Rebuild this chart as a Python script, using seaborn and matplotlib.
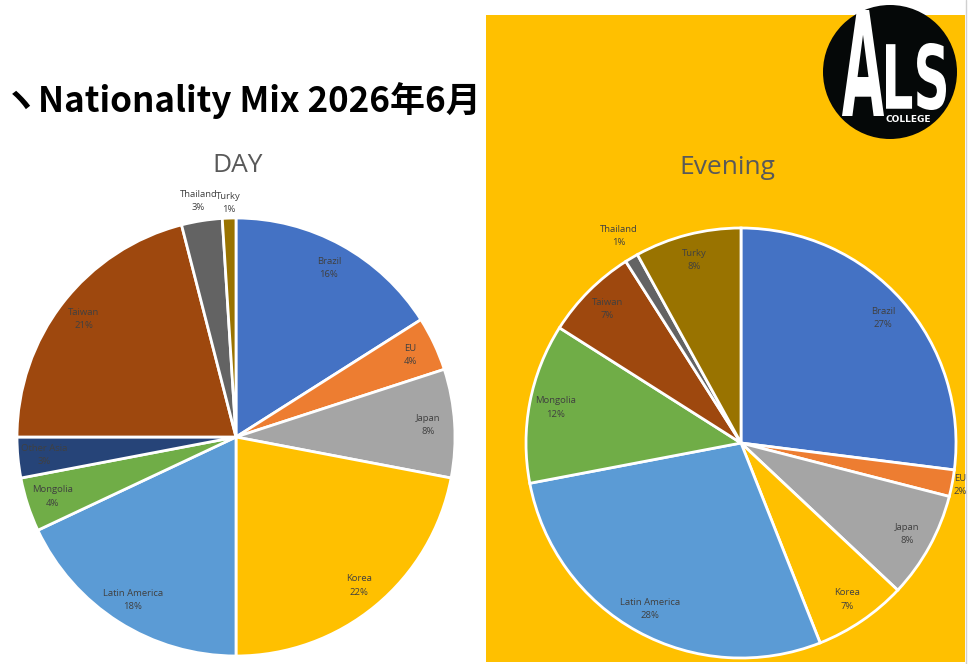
import numpy as np
import matplotlib
matplotlib.use('Agg')
from matplotlib import pyplot as plt
from matplotlib.patches import Rectangle, Circle, PathPatch
from matplotlib.textpath import TextPath
from matplotlib.font_manager import FontProperties
from matplotlib.transforms import Affine2D
import seaborn as sns

categories = ["Brazil", "EU", "Japan", "Korea", "Latin America", "Mongolia",
              "Other Asia", "Taiwan", "Thailand", "Turky"]
day_values = [16, 4, 8, 22, 18, 4, 3, 21, 3, 1]
evening_values = [27, 2, 8, 7, 28, 12, 0, 7, 1, 8]
category_colors = ["#4472C4", "#ED7D31", "#A5A5A5", "#FFC000", "#5B9BD5",
                   "#70AD47", "#264478", "#9E480E", "#636363", "#997300"]
title_text = "ヽNationality Mix 2026年6月"
day_title = "DAY"
evening_title = "Evening"

sns.set_style("white")
plt.rcParams['font.family'] = ['Noto Sans CJK JP', 'DejaVu Sans']
palette = sns.color_palette(category_colors)

W, H = 969, 664
fig = plt.figure(figsize=(W / 100, H / 100), dpi=100)

# background layer in pixel coordinates
bg = fig.add_axes([0, 0, 1, 1], zorder=0)
bg.set_xlim(0, W)
bg.set_ylim(H, 0)
bg.axis('off')
bg.add_patch(Rectangle((486, 15), 479, 647, color="#FFC000", lw=0))
bg.plot([966, 966], [0, H], color="#D0D0D0", lw=1)
bg.text(3, 101, title_text, fontsize=25.2, fontweight='bold', color='black',
        ha='left', va='center')
bg.text(238, 165, day_title, fontsize=19, color='#595959', ha='center',
        va='center', family=['Open Sans', 'DejaVu Sans'])
bg.text(727, 167, evening_title, fontsize=19, color='#595959', ha='center',
        va='center', family=['Open Sans', 'DejaVu Sans'])


# logo
def logo_text(s, x0, x1, y0, y1):
    tp = TextPath((0, 0), s, size=100,
                  prop=FontProperties(family='DejaVu Sans', weight='bold'))
    ext = tp.get_extents()
    tr = (Affine2D().translate(-ext.x0, -ext.y0)
          .scale((x1 - x0) / ext.width, -(y1 - y0) / ext.height)
          .translate(x0, y1))
    bg.add_patch(PathPatch(tr.transform_path(tp), color='white', lw=0))


bg.add_patch(Circle((890, 72), 67, color="#050808", lw=0))
logo_text("A", 842, 884, 10, 116)
logo_text("LS", 886, 946, 43, 110)
bg.text(908, 119, "COLLEGE", fontsize=6.5, fontweight='bold', color='white',
        ha='center', va='center', family=['DejaVu Sans'])


def draw_pie(ax, values, label_dist):
    names = [c for c, v in zip(categories, values) if v > 0]
    vals = [v for v in values if v > 0]
    cols = [palette[categories.index(n)] for n in names]
    wedges, _ = ax.pie(vals, colors=cols, startangle=90, counterclock=False,
                       radius=1, wedgeprops=dict(edgecolor='white', linewidth=2))
    for w, n, v in zip(wedges, names, vals):
        mid = np.deg2rad((w.theta1 + w.theta2) / 2)
        d = label_dist.get(n, 0.88)
        ax.text(d * np.cos(mid), d * np.sin(mid), f"{n}\n{v}%", ha='center',
                va='center', fontsize=6.8, color='#404040', linespacing=1.6,
                family=['Open Sans', 'DejaVu Sans'])
    ax.set_xlim(-1, 1)
    ax.set_ylim(-1, 1)
    ax.set_aspect('equal')
    ax.axis('off')


ax_day = fig.add_axes([17 / W, 8 / H, 438 / W, 438 / H], zorder=1)
draw_pie(ax_day, day_values, {"Thailand": 1.09, "Turky": 1.07})

ax_eve = fig.add_axes([526 / W, 6 / H, 430 / W, 430 / H], zorder=1)
draw_pie(ax_eve, evening_values, {"Thailand": 1.12, "EU": 1.04})

fig.savefig("out.png", dpi=100)
